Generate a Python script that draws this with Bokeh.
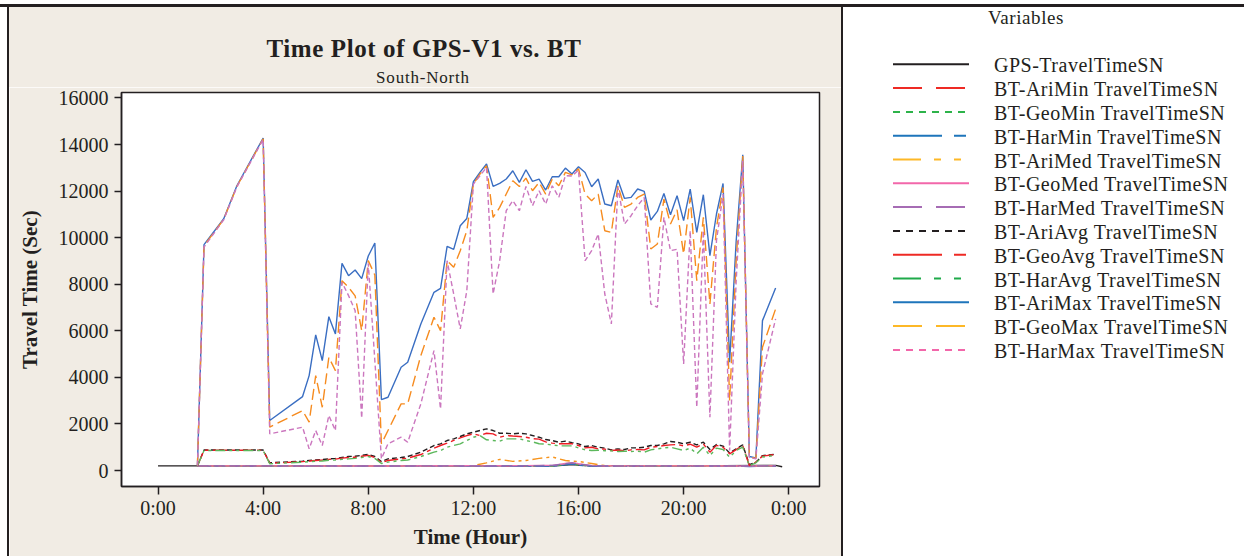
from bokeh.plotting import figure
from bokeh.models import Range1d, FixedTicker, Div
from bokeh.layouts import row, column
from bokeh.embed import file_html
from bokeh.resources import INLINE

# ---------------- texts ----------------
TITLE = "Time Plot of GPS-V1 vs. BT"
SUBTITLE = "South-North"
X_LABEL = "Time (Hour)"
Y_LABEL = "Travel Time (Sec)"
LEGEND_TITLE = "Variables"

X_TICKS = [0, 4, 8, 12, 16, 20, 24]
X_TICK_LABELS = ["0:00", "4:00", "8:00", "12:00", "16:00", "20:00", "0:00"]
Y_TICKS = [0, 2000, 4000, 6000, 8000, 10000, 12000, 14000, 16000]

# ---------------- data (hours, seconds) ----------------
T_GPS = [0.0, 1.5, 4.25, 8.5, 12.0, 15.25, 15.75, 16.25, 20.0, 23.5, 23.75]
GPS = [200, 200, 200, 200, 200, 210, 260, 210, 200, 220, 160]

T_LOW = [1.5, 4.25, 8.5, 12.0, 12.5, 13.0, 13.5, 14.0, 14.5, 15.0, 15.5, 15.75, 16.0, 16.5, 17.0, 20.0, 22.5, 23.5]
ARI_MIN = [200, 195, 190, 195, 190, 195, 190, 190, 195, 200, 260, 300, 250, 200, 190, 190, 185, 190]
GEO_MIN = [195, 190, 185, 190, 185, 190, 185, 185, 190, 195, 250, 290, 240, 195, 185, 185, 180, 185]
HAR_MIN = [190, 185, 180, 185, 180, 185, 180, 180, 185, 185, 240, 280, 230, 185, 180, 180, 175, 180]
ARI_MED = [200, 200, 195, 210, 330, 480, 390, 430, 520, 580, 430, 400, 390, 300, 210, 200, 195, 200]
GEO_MED = [200, 200, 195, 205, 200, 210, 205, 210, 215, 220, 300, 340, 290, 210, 200, 200, 195, 200]
HAR_MED = [200, 200, 195, 200, 200, 205, 200, 205, 210, 215, 290, 330, 280, 205, 200, 200, 195, 200]

T = [1.5, 1.75, 2.5, 3.0, 4.0, 4.25, 5.5, 5.75, 6.0, 6.25,
     6.5, 6.75, 7.0, 7.25, 7.5, 7.75, 8.0, 8.25, 8.5, 8.75,
     9.25, 9.5, 10.0, 10.5, 10.75, 11.0, 11.25, 11.5, 11.75, 12.0,
     12.25, 12.5, 12.75, 13.0, 13.25, 13.5, 13.75, 14.0, 14.25, 14.5,
     14.75, 15.0, 15.25, 15.5, 15.75, 16.0, 16.25, 16.5, 16.75, 17.0,
     17.25, 17.5, 17.75, 18.0, 18.25, 18.5, 18.75, 19.0, 19.25, 19.5,
     19.75, 20.0, 20.25, 20.5, 20.75, 21.0, 21.25, 21.5, 21.75, 22.0,
     22.25, 22.5, 22.75, 23.0, 23.5]

ARI_AVG = [200, 880, 880, 880, 880, 330, 400, 430, 450, 470,
           500, 520, 560, 600, 610, 650, 690, 600, 380, 500,
           560, 600, 787, 1073, 1145, 1288, 1360, 1460, 1575, 1644,
           1717, 1790, 1717, 1600, 1600, 1575, 1600, 1575, 1502, 1430,
           1330, 1288, 1215, 1260, 1200, 1145, 1030, 1073, 1000, 960,
           888, 930, 900, 974, 974, 1000, 1073, 1073, 1145, 1245,
           1215, 1150, 1215, 1100, 1215, 900, 1116, 1050, 750, 931,
           1100, 250, 356, 640, 700]
GEO_AVG = [200, 870, 870, 870, 870, 310, 380, 410, 430, 450,
           480, 490, 530, 560, 570, 610, 650, 560, 340, 430,
           500, 530, 687, 959, 1073, 1173, 1290, 1403, 1500, 1575,
           1500, 1600, 1575, 1430, 1502, 1480, 1459, 1430, 1370, 1350,
           1230, 1176, 1150, 1150, 1150, 1073, 973, 1000, 930, 920,
           860, 880, 845, 888, 900, 888, 1000, 1030, 1073, 1100,
           1116, 1060, 1130, 1000, 1140, 787, 1080, 1000, 716, 900,
           1073, 215, 356, 620, 687]
HAR_AVG = [200, 860, 860, 860, 860, 290, 360, 380, 400, 410,
           440, 450, 480, 500, 520, 560, 600, 520, 300, 360,
           430, 450, 600, 787, 858, 1000, 1073, 1145, 1288, 1430,
           1502, 1318, 1288, 1259, 1359, 1360, 1360, 1290, 1230, 1150,
           1130, 1100, 1060, 1060, 1060, 973, 888, 860, 870, 850,
           845, 816, 830, 816, 830, 787, 888, 930, 973, 1000,
           931, 860, 960, 716, 1000, 644, 960, 900, 572, 860,
           1000, 200, 330, 580, 644]
ARI_MAX = [215, 9700, 10815, 12230, 14280, 2146, 3176, 4077, 5824, 4721,
           6609, 5867, 8897, 8369, 8614, 8240, 9215, 9773, 3047, 3146,
           4433, 4648, 6296, 7652, 7824, 9627, 9498, 10515, 10828, 12403,
           12803, 13163, 12202, 12330, 12519, 12876, 12373, 12918, 12416, 12519,
           12047, 12618, 12618, 12991, 12734, 13047, 12803, 12189, 12519, 11446,
           11373, 12476, 11687, 11730, 12090, 11987, 10760, 11129, 11901, 10987,
           11803, 10730, 12090, 10227, 11845, 9227, 11017, 12330, 4648, 9871,
           13562, 601, 545, 6438, 7841]
GEO_MAX = [215, 9650, 10790, 12200, 14250, 1860, 2575, 2075, 4077, 2717,
           4863, 4292, 8155, 7867, 7500, 6009, 9013, 8400, 1145, 1717,
           2861, 2861, 4936, 6580, 6009, 9013, 8727, 9442, 10300, 12303,
           12733, 13090, 10871, 11300, 11875, 12446, 12200, 12560, 12017, 12374,
           11875, 12519, 12232, 12803, 12700, 12960, 11875, 11588, 11875, 10300,
           10227, 12232, 11300, 11446, 11730, 11875, 9515, 9730, 11660, 10588,
           11200, 9300, 11730, 8155, 10871, 7154, 10442, 12160, 3004, 9013,
           13519, 580, 520, 5292, 6940]
HAR_MAX = [215, 9600, 10770, 12180, 14220, 1575, 1860, 931, 1717, 1073,
           2360, 1717, 8082, 7511, 6867, 2250, 8900, 4721, 502, 1145,
           1430, 1215, 2861, 5150, 2648, 9013, 7582, 6080, 7725, 12303,
           12660, 13017, 7582, 9013, 11159, 11588, 11159, 12200, 11373, 12017,
           11446, 12232, 11730, 12660, 12650, 12900, 9013, 9442, 10159, 7582,
           6296, 12160, 10588, 10944, 11373, 11730, 7154, 7010, 10871, 9442,
           9500, 4579, 10300, 2717, 10300, 2288, 9871, 11875, 858, 8155,
           13305, 560, 500, 4150, 6510]

SERIES_NAMES = ["GPS-TravelTimeSN", "BT-AriMin TravelTimeSN", "BT-GeoMin TravelTimeSN",
                "BT-HarMin TravelTimeSN", "BT-AriMed TravelTimeSN", "BT-GeoMed TravelTimeSN",
                "BT-HarMed TravelTimeSN", "BT-AriAvg TravelTimeSN", "BT-GeoAvg TravelTimeSN",
                "BT-HarAvg TravelTimeSN", "BT-AriMax TravelTimeSN", "BT-GeoMax TravelTimeSN",
                "BT-HarMax TravelTimeSN"]
SERIES_X = [T_GPS, T_LOW, T_LOW, T_LOW, T_LOW, T_LOW, T_LOW, T, T, T, T, T, T]
SERIES_Y = [GPS, ARI_MIN, GEO_MIN, HAR_MIN, ARI_MED, GEO_MED, HAR_MED,
            ARI_AVG, GEO_AVG, HAR_AVG, ARI_MAX, GEO_MAX, HAR_MAX]

# ---------------- styles ----------------
INK = "#231F20"
BEIGE = "#F1ECE4"
PLOT_COLORS = [INK, "#E8262B", "#3FAE4A", "#2D6DB5", "#F7941D", "#E86FB0", "#8E6BB3",
               INK, "#ED1C24", "#5CB85C", "#3A6EC2", "#F68B1F", "#CB76BE"]
LEGEND_COLORS = [INK, "#EE2A24", "#2DB34A", "#1E75BB", "#FDB827", "#F267AA", "#A66CB4",
                 INK, "#EE2A24", "#1FAA4A", "#1E75BB", "#FDB827", "#F267AA"]
KINDS = ["solid", "long", "short", "ls", "lss", "solid", "long", "short", "ls", "lss",
         "solid", "long", "short"]
PLOT_DASH = {"solid": "solid", "long": "11 5", "short": "5 3", "ls": "14 4 4 4", "lss": "10 4 3 4 3 4"}
LEGEND_DASH = {"solid": None, "long": "29 14", "short": "7 6", "ls": "49 12 12 12",
               "lss": "28 13 7 13 7 13"}
FONT = "Liberation Serif"
SVG_FONT = "font-family:'Liberation Serif','Times New Roman',serif;"

PANEL_W = 832          # beige panel width
TITLE_H = 80           # beige strip above the plot holding title + subtitle
PLOT_H = 549 - TITLE_H

# ---------------- main plot ----------------
p = figure(width=PANEL_W, height=PLOT_H, x_range=Range1d(-1.39, 25.17), y_range=Range1d(-687, 16236),
           output_backend="svg", toolbar_location=None,
           min_border_left=112, min_border_right=22, min_border_top=5, min_border_bottom=70,
           background_fill_color="white", border_fill_color=BEIGE,
           outline_line_color=INK, outline_line_width=1.5)
p.grid.visible = False

for xs, ys, c, k in zip(SERIES_X, SERIES_Y, PLOT_COLORS, KINDS):
    p.line(xs, ys, line_color=c, line_width=1.4, line_dash=PLOT_DASH[k])

p.xaxis.ticker = FixedTicker(ticks=X_TICKS)
p.xaxis.major_label_overrides = {t: l for t, l in zip(X_TICKS, X_TICK_LABELS)}
p.yaxis.ticker = FixedTicker(ticks=Y_TICKS)
p.xaxis.axis_label = X_LABEL
p.yaxis.axis_label = Y_LABEL
for ax in (p.xaxis[0], p.yaxis[0]):
    ax.major_label_text_font = FONT
    ax.major_label_text_font_size = "20px"
    ax.major_label_text_color = INK
    ax.axis_label_text_font = FONT
    ax.axis_label_text_font_style = "bold"
    ax.axis_label_text_font_size = "21px"
    ax.axis_label_text_color = INK
    ax.axis_line_color = INK
    ax.axis_line_width = 1.5
    ax.major_tick_line_color = INK
    ax.major_tick_line_width = 1.5
    ax.major_tick_in = 0
    ax.minor_tick_line_color = None
p.xaxis.major_tick_out = 8
p.yaxis.major_tick_out = 7
p.xaxis.major_label_standoff = 2
p.xaxis.axis_label_standoff = 3
p.yaxis.major_label_standoff = 6
p.yaxis.axis_label_standoff = 14

# ---------------- title strip (beige, above the plot) ----------------
title_svg = (
    f'<svg xmlns="http://www.w3.org/2000/svg" width="{PANEL_W}" height="{TITLE_H}" style="display:block">'
    f'<text x="415" y="41" text-anchor="middle" dominant-baseline="central" '
    f'style="{SVG_FONT}font-size:25px;font-weight:bold;letter-spacing:0.6px;fill:{INK};">{TITLE}</text>'
    f'<text x="414" y="70" text-anchor="middle" dominant-baseline="central" '
    f'style="{SVG_FONT}font-size:17px;font-weight:normal;letter-spacing:0.8px;fill:{INK};">{SUBTITLE}</text>'
    '</svg>'
)
title_div = Div(text=title_svg, width=PANEL_W, height=TITLE_H, margin=0,
                styles={"background-color": BEIGE})

# ---------------- legend panel (white) ----------------
LW, LH = 401, 549
parts = [f'<svg xmlns="http://www.w3.org/2000/svg" width="{LW}" height="{LH}" style="display:block">',
         f'<text x="183" y="10" text-anchor="middle" dominant-baseline="central" '
         f'style="{SVG_FONT}font-size:19px;letter-spacing:0.6px;fill:{INK};">{LEGEND_TITLE}</text>']
for i, (name, c, k) in enumerate(zip(SERIES_NAMES, LEGEND_COLORS, KINDS)):
    yy = 57.3 + 23.8 * i
    dash = LEGEND_DASH[k]
    dash_attr = f' stroke-dasharray="{dash}"' if dash else ""
    parts.append(f'<line x1="50" y1="{yy:.1f}" x2="126" y2="{yy:.1f}" stroke="{c}" stroke-width="2"{dash_attr}/>')
    parts.append(f'<text x="151" y="{yy + 1:.1f}" dominant-baseline="central" '
                 f'style="{SVG_FONT}font-size:20px;letter-spacing:0.5px;fill:{INK};">{name}</text>')
parts.append('</svg>')
legend_div = Div(text="".join(parts), width=LW, height=LH, margin=0,
                 styles={"background-color": "white"})

# ---------------- page frame ----------------
top_gap = Div(text="", width=1244, height=4, margin=0)
top_bar = Div(text="", width=1244, height=3, margin=0, styles={"background-color": INK})
left_gap = Div(text="", width=7, height=549, margin=0)
left_bar = Div(text="", width=2, height=549, margin=0, styles={"background-color": INK})
mid_bar = Div(text="", width=2, height=549, margin=0, styles={"background-color": INK})

layout = column(top_gap, top_bar,
                row(left_gap, left_bar, column(title_div, p), mid_bar, legend_div))

open("out.html", "w").write(file_html(layout, INLINE))
